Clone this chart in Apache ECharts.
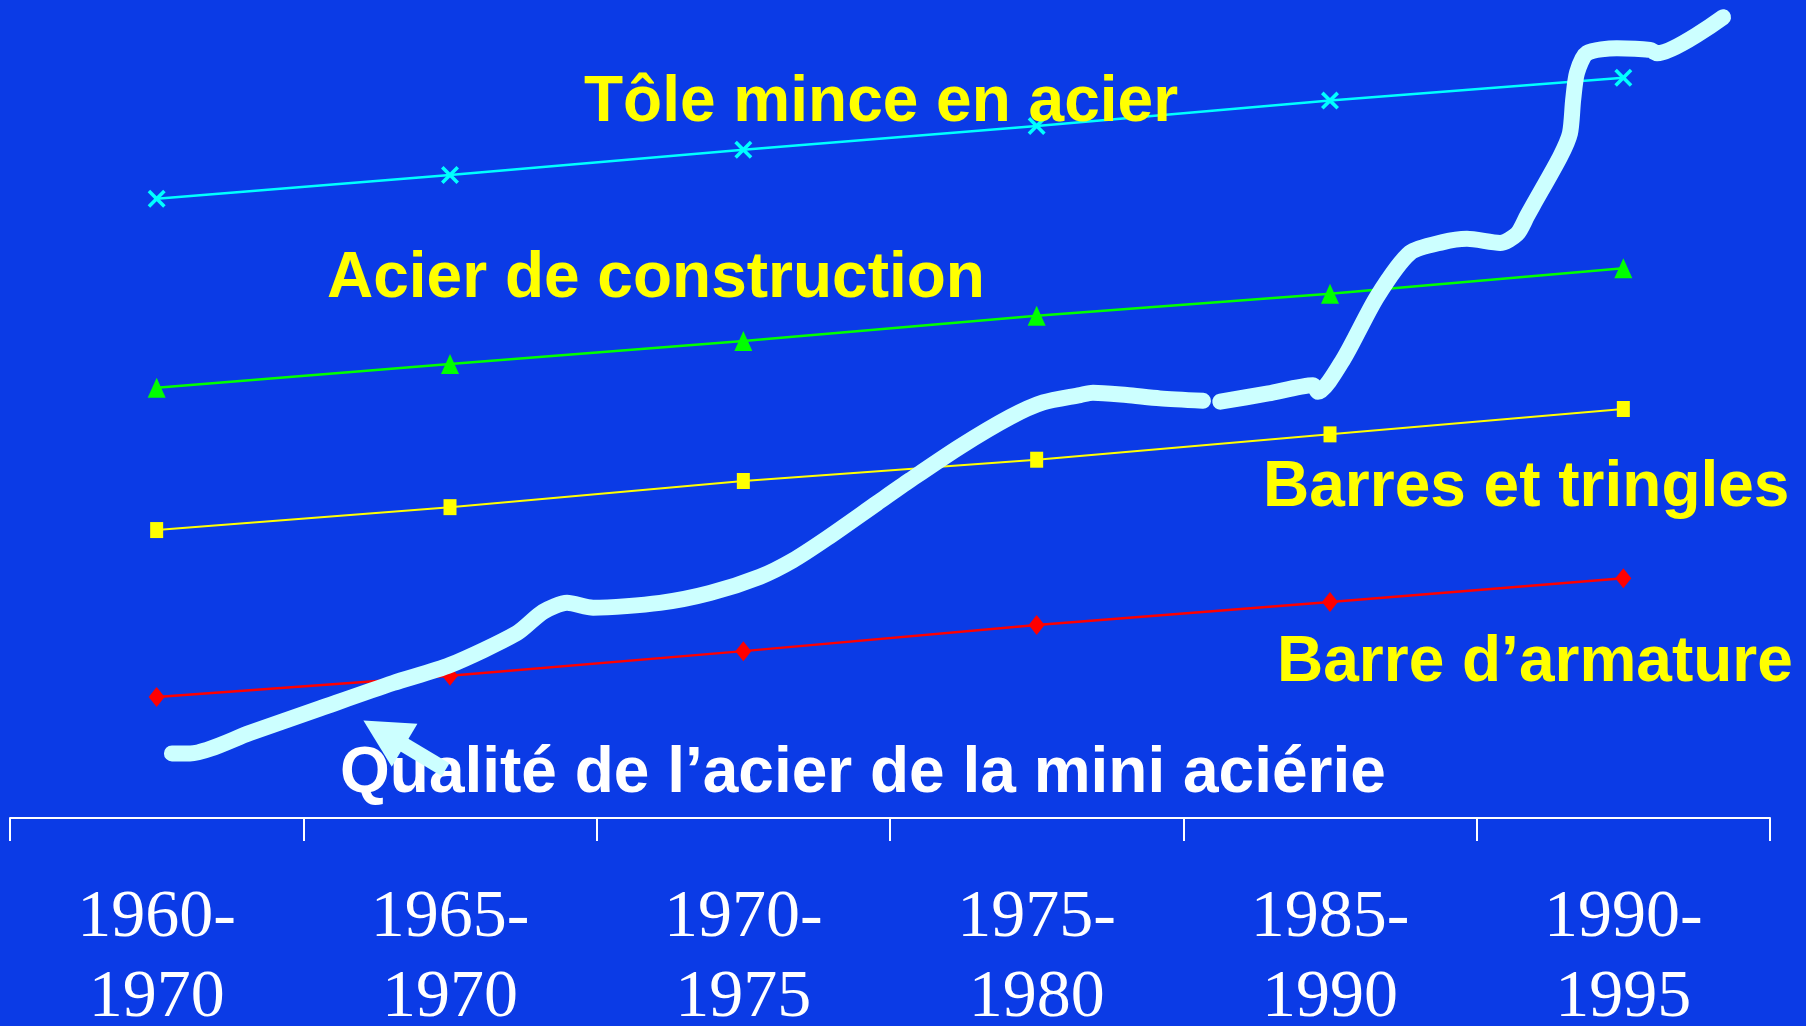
<!DOCTYPE html>
<html>
<head>
<meta charset="utf-8">
<script src="https://cdn.jsdelivr.net/npm/echarts@6/dist/echarts.min.js"></script>
<style>
html,body{margin:0;padding:0;background:#0b3be6;overflow:hidden;}
#chart{width:1806px;height:1026px;}
</style>
</head>
<body>
<div id="chart"></div>
<script>
// Periods (category axis)
const categories = ['1960-\n1970', '1965-\n1970', '1970-\n1975', '1975-\n1980', '1985-\n1990', '1990-\n1995'];

// Thin series (index scale 0-100)
const toleMince = [75.7, 78.6, 81.7, 84.6, 87.7, 90.5];
const acierConstruction = [52.6, 55.5, 58.3, 61.4, 64.1, 67.2];
const barresTringles = [35.2, 38.0, 41.2, 43.8, 46.9, 50.0];
const barreArmature = [14.8, 17.4, 20.4, 23.6, 26.4, 29.3];

// Hand-drawn curve: position in period units (0 = first period centre) and level
const qualiteX = [0.052, 0.114, 0.318, 0.557, 0.806, 1.000, 1.228, 1.317, 1.399, 1.488, 1.716, 1.886, 2.057, 2.169, 2.285, 2.456, 2.568, 2.739, 2.909, 3.022, 3.148, 3.192, 3.307, 3.420, 3.567, 3.595, 3.626, 3.790, 3.942, 3.959, 4.044, 4.160, 4.273, 4.385, 4.467, 4.580, 4.638, 4.672, 4.692, 4.784, 4.818, 4.829, 4.842, 4.876, 4.978, 5.091, 5.115, 5.340];
const qualiteY = [7.9, 7.9, 10.4, 13.4, 16.5, 18.7, 22.6, 25.2, 26.3, 25.7, 26.3, 27.5, 29.5, 31.5, 34.2, 38.5, 41.3, 45.4, 49.0, 50.8, 51.7, 52.0, 51.7, 51.3, 51.0, '-', 50.9, 51.9, 52.9, 52.1, 56.0, 63.7, 69.1, 70.4, 70.8, 70.3, 71.4, 73.6, 74.9, 80.8, 83.7, 87.8, 91.1, 93.5, 94.1, 93.9, 93.5, 97.9];

// Arrow pointing to the curve (period units, level)
const arrowFrom = [0.985, 5.9];
const arrowTo = [0.775, 10.4];

const seriesLabels = {
  tole: 'Tôle mince en acier',
  construction: 'Acier de construction',
  barres: 'Barres et tringles',
  armature: 'Barre d\u2019armature',
  qualite: 'Qualité de l\u2019acier de la mini aciérie'
};

const qualiteData = qualiteX.map((x, i) => [x, qualiteY[i]]);

const chart = echarts.init(document.getElementById('chart'), null, {renderer: 'canvas'});

const xMark = 'path://M0,1.4L1.4,0L5,3.6L8.6,0L10,1.4L6.4,5L10,8.6L8.6,10L5,6.4L1.4,10L0,8.6L3.6,5Z';
const titleFont = {fontFamily: 'Liberation Sans, Arial, sans-serif', fontWeight: 'bold', fontSize: 64};

chart.setOption({
  backgroundColor: '#0b3be6',
  animation: false,
  grid: {left: 10, right: 36, top: 0, bottom: 208, containLabel: false, outerBoundsMode: 'none'},
  xAxis: [
    {
      type: 'category',
      data: categories,
      boundaryGap: true,
      axisLine: {show: true, lineStyle: {color: '#ffffff', width: 2}},
      axisTick: {show: true, length: 23, lineStyle: {color: '#ffffff', width: 2}},
      axisLabel: {
        color: '#ffffff', fontFamily: 'Liberation Serif, Times New Roman, serif',
        fontSize: 68, lineHeight: 80, margin: 60, interval: 0, hideOverlap: false
      },
      splitLine: {show: false}
    },
    {
      type: 'value', min: -0.5, max: 5.5, show: false
    }
  ],
  yAxis: {type: 'value', min: 0, max: 100, show: false},
  series: [
    {
      name: seriesLabels.tole, type: 'line', xAxisIndex: 0, data: toleMince,
      lineStyle: {color: '#00ffff', width: 2.5},
      symbol: xMark, symbolSize: 18, itemStyle: {color: '#00ffff'}, z: 3
    },
    {
      name: seriesLabels.construction, type: 'line', xAxisIndex: 0, data: acierConstruction,
      lineStyle: {color: '#00ff00', width: 2.5},
      symbol: 'triangle', symbolSize: [18, 20], itemStyle: {color: '#00ff00'}, z: 3
    },
    {
      name: seriesLabels.barres, type: 'line', xAxisIndex: 0, data: barresTringles,
      lineStyle: {color: '#ffff00', width: 2},
      symbol: 'rect', symbolSize: [13, 16], itemStyle: {color: '#ffff00'}, z: 3
    },
    {
      name: seriesLabels.armature, type: 'line', xAxisIndex: 0, data: barreArmature,
      lineStyle: {color: '#ff0000', width: 2.5},
      symbol: 'diamond', symbolSize: [16, 20], itemStyle: {color: '#ff0000'}, z: 3
    },
    {
      name: seriesLabels.qualite, type: 'line', xAxisIndex: 1, data: qualiteData,
      smooth: 0.25, connectNulls: false, showSymbol: false, symbol: 'none',
      lineStyle: {color: '#ccffff', width: 16, cap: 'round', join: 'round'},
      z: 5,
      markLine: {
        silent: true, animation: false,
        symbol: ['none', 'triangle'], symbolSize: [50, 48],
        label: {show: false},
        lineStyle: {color: '#ccffff', width: 15, type: 'solid', cap: 'butt'},
        data: [[{coord: arrowFrom}, {coord: arrowTo}]]
      }
    }
  ],
  graphic: [
    {type: 'text', x: 584, y: 103, z: 100, style: Object.assign({text: seriesLabels.tole, fill: '#ffff00', verticalAlign: 'middle'}, titleFont)},
    {type: 'text', x: 327, y: 279, z: 100, style: Object.assign({text: seriesLabels.construction, fill: '#ffff00', verticalAlign: 'middle'}, titleFont)},
    {type: 'text', x: 1263, y: 488, z: 100, style: Object.assign({text: seriesLabels.barres, fill: '#ffff00', verticalAlign: 'middle'}, titleFont)},
    {type: 'text', x: 1277, y: 663, z: 100, style: Object.assign({text: seriesLabels.armature, fill: '#ffff00', verticalAlign: 'middle'}, titleFont)},
    {type: 'text', x: 340, y: 774, z: 0, style: Object.assign({text: seriesLabels.qualite, fill: '#ffffff', verticalAlign: 'middle'}, titleFont)}
  ]
});
</script>
</body>
</html>
